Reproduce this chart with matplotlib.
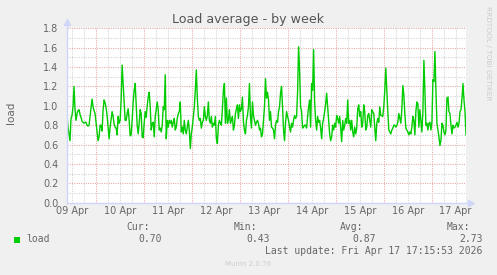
import matplotlib
matplotlib.use("Agg")
import matplotlib.pyplot as plt
import matplotlib.dates as mdates
from matplotlib.ticker import MultipleLocator, FormatStrFormatter
from matplotlib.patches import Rectangle
import pandas as pd

# ---------------- data ----------------
title = "Load average - by week"
y_label = "load"
series_name = "load"
start_time = "2026-04-09 09:15"
end_time = "2026-04-17 17:15"

load_part1 = [0.90,0.78,0.71,0.64,0.87,0.90,0.99,1.20,0.96,0.85,0.92,0.95,0.96,0.91,0.88,0.84,0.83,0.82,0.83,0.83,
              0.80,0.79,0.80,0.89,0.97,1.07,0.99,0.95,0.92,0.82,0.73,0.64,0.68,0.80,0.80,0.74,0.96,1.06,1.03,0.98,
              0.90,0.78,0.66,0.78,0.86,0.94,0.89,0.81,0.78,0.77,0.70,0.89,0.82,0.85,1.06,1.42,1.23,1.04,0.85,0.85,
              0.92,0.97,0.85,0.69,0.70,0.85,1.04,1.16,1.23,1.01,0.80,0.71,0.82,0.96,0.92,0.68,0.67,0.82,0.94,0.88]
load_part2 = [1.00,1.09,1.14,0.99,0.75,0.82,0.83,0.68,0.89,0.96,1.04,
              0.96,0.75,0.77,0.73,0.80,0.99,0.96,1.32,0.66,0.85,
              0.78,0.85,0.82,0.85,0.78,0.83,0.87,0.75,0.78,0.87,
              0.92,0.94,1.04,0.73,0.78,0.71,0.85,0.75,0.71,0.78,
              0.85,0.75,0.56,0.71,0.78,0.89,0.99,1.16,1.37,1.08,
              0.89,0.85,0.87,0.77,0.83,0.85,0.99,0.89,0.85,0.90,
              1.04,0.85,0.82,0.89,0.78,0.82,0.80,0.89,0.66,0.61,
              0.80,0.85,0.82,0.80,0.97,1.16,1.23,0.82,1.08,0.82,0.85]
load_part3 = [0.96,0.82,0.85,0.89,0.75,0.80,0.92,0.97,1.01,0.87,
              1.01,0.94,0.97,1.09,0.83,0.75,0.71,0.85,0.90,0.99,
              1.23,0.89,0.77,1.04,0.90,0.85,0.80,0.83,0.85,0.82,
              0.75,0.77,0.68,0.71,0.85,0.99,1.28,1.08,1.14,1.06,
              0.85,0.94,0.78,0.77,0.75,0.66,0.80,0.85,0.83,0.94,
              0.99,1.13,1.20,0.99,0.75,0.64,0.83,0.94,0.89,0.85,
              0.78,0.73,0.82,0.78,0.85,0.90,0.87,0.89,1.14,1.61,
              1.37,0.99,0.94,0.77,0.78,0.80,0.80,0.77,0.89,0.99,1.06]
load_part4 = [0.78,1.23,1.16,1.58,1.04,0.85,0.75,0.89,0.83,0.85,
              0.77,0.66,0.82,0.87,0.94,1.02,1.13,0.99,0.85,0.71,
              0.64,0.68,0.80,0.75,0.82,0.78,0.90,0.87,0.82,0.89,
              0.77,0.63,0.85,0.75,0.80,0.87,0.82,1.06,0.82,0.85,
              0.75,0.85,0.73,0.68,0.78,0.71,0.77,0.97,1.01,0.89,
              0.94,0.78,0.82,1.01,0.94,0.75,0.78,0.90,0.92,0.85,
              0.78,0.96,0.94,0.92,0.77,0.64,0.82,0.87,0.83,0.99,
              0.90,0.90,0.89,0.99,1.16,1.39,1.16,0.94,0.75,0.73,0.71,0.75]
load_part5 = [0.77,0.80,0.80,0.78,0.80,0.83,0.92,0.87,0.82,0.96,
              1.21,1.11,0.92,0.77,0.75,0.73,0.70,0.73,0.71,0.78,
              0.89,0.85,0.70,0.94,1.04,1.02,0.78,0.96,0.85,0.73,
              0.94,1.47,1.16,0.80,0.82,0.75,0.82,0.83,0.75,0.83,
              1.27,1.25,1.56,1.16,0.82,0.75,0.68,0.59,0.64,0.82,
              0.80,0.73,0.70,0.75,1.08,1.09,0.94,0.92,0.80,0.71,
              0.80,0.77,0.78,0.80,0.83,0.78,0.82,0.94,0.96,1.08,
              1.23,1.06,0.94,0.70]

legend_headers = ["Cur:", "Min:", "Avg:", "Max:"]
legend_values = ["0.70", "0.43", "0.87", "2.73"]
last_update = "Last update: Fri Apr 17 17:15:53 2026"
y_min, y_max = 0.0, 1.8

# ---------------- figure ----------------
W, H = 497, 275
values = load_part1 + load_part2 + load_part3 + load_part4 + load_part5
times = pd.date_range(start_time, end_time, periods=len(values))

BG = "#F0F0F0"
FONT = "#666666"
AXIS = "#CFD6F8"
GREEN = "#00CC00"

def fx(x):
    return x / W

def fy(y):
    return 1 - y / H

fig = plt.figure(figsize=(W / 100, H / 100), dpi=100, facecolor=BG)
top_px, bot_px, left_px, right_px = 28.3, 202.7, 67, 466
ax = fig.add_axes([fx(left_px), fy(bot_px), (right_px - left_px) / W, (bot_px - top_px) / H])
ax.set_facecolor("white")

ax.plot(times, values, color=GREEN, lw=1.0, zorder=3, solid_joinstyle="round")

ax.set_xlim(pd.Timestamp(start_time), pd.Timestamp(end_time))
ax.set_ylim(y_min, y_max)

# grids
ax.xaxis.set_major_locator(mdates.HourLocator(byhour=[0]))
ax.xaxis.set_minor_locator(mdates.HourLocator(byhour=[0, 6, 12, 18]))
ax.xaxis.set_major_formatter(plt.NullFormatter())
ax.yaxis.set_major_locator(MultipleLocator(0.2))
ax.yaxis.set_minor_locator(MultipleLocator(0.1))
ax.yaxis.set_major_formatter(FormatStrFormatter("%.1f"))
ax.grid(which="major", color="#E8A8A8", linestyle=(0, (1, 1.2)), linewidth=0.75)
ax.grid(which="minor", color="#D2D2D2", linestyle=(0, (1, 1.2)), linewidth=0.75)
ax.set_axisbelow(True)
ax.tick_params(which="both", length=0)
ax.tick_params(axis="y", labelsize=7, colors=FONT, pad=6)

for s in ax.spines.values():
    s.set_visible(False)

# day labels centred at noon
noons = pd.date_range("2026-04-09 12:00", "2026-04-17 12:00", freq="D")
for d in noons:
    ax.text(d, -0.018, d.strftime("%d %b"), transform=ax.get_xaxis_transform(),
            ha="center", va="top", fontsize=7, color=FONT, clip_on=False)

# axis lines and arrows
ax.plot([0, 0], [0, 1.03], transform=ax.transAxes, color=AXIS, lw=1, clip_on=False, zorder=4)
ax.plot([0, 1.01], [0, 0], transform=ax.transAxes, color=AXIS, lw=1, clip_on=False, zorder=4)
ax.plot([0], [1.035], transform=ax.transAxes, marker="^", color=AXIS, ms=4.5, clip_on=False, zorder=4)
ax.plot([1.013], [0], transform=ax.transAxes, marker=">", color=AXIS, ms=4.5, clip_on=False, zorder=4)

# texts
fig.text(fx(248), fy(19), title, ha="center", va="center", fontsize=9.1, color="#555555")
fig.text(fx(11), fy(113), y_label, ha="center", va="center", rotation=90, fontsize=7.5, color=FONT)
fig.text(fx(488), fy(53), "RRDTOOL / TOBI OETIKER", ha="center", va="center", rotation=270,
         fontsize=5.3, color="#CCCCCC")
fig.text(fx(248), fy(264.5), "Munin 2.0.76", ha="center", va="center", fontsize=5, color="#CCCCCC")

mono = "DejaVu Sans Mono"
fig.patches.append(Rectangle((fx(14), fy(242.5)), 6 / W, 6 / H, transform=fig.transFigure,
                             facecolor=GREEN, edgecolor="none"))
fig.text(fx(26.5), fy(239.5), series_name, ha="left", va="center", fontsize=7, family=mono, color=FONT)
header_right = [150, 257, 363.5, 470]
value_right = [162, 269.5, 376, 482.5]
for h, v, hr, vr in zip(legend_headers, legend_values, header_right, value_right):
    fig.text(fx(hr), fy(227), h, ha="right", va="center", fontsize=7, family=mono, color=FONT)
    fig.text(fx(vr), fy(239.5), v, ha="right", va="center", fontsize=7, family=mono, color=FONT)
fig.text(fx(482.5), fy(251.5), last_update, ha="right", va="center", fontsize=7, family=mono, color=FONT)

fig.savefig("out.png", dpi=100, facecolor=BG)
